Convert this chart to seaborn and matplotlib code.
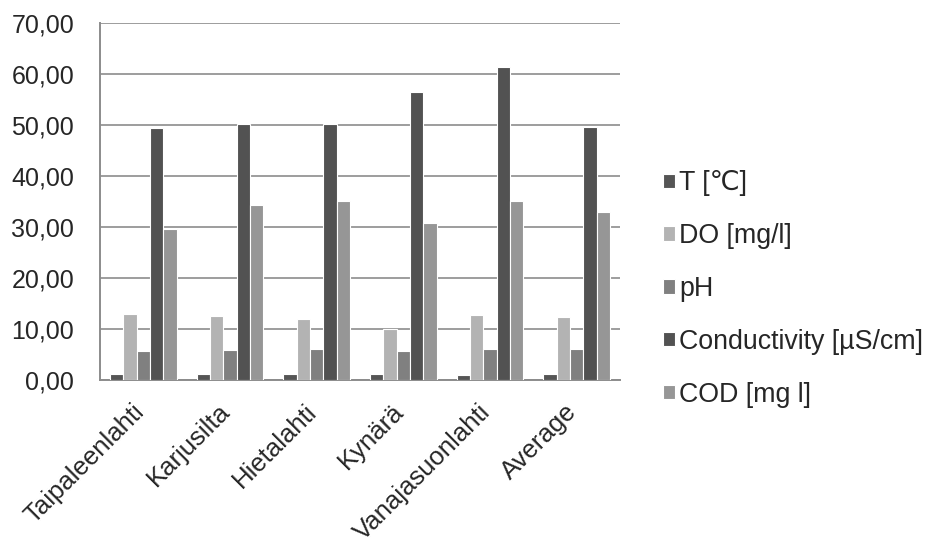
import matplotlib
matplotlib.use("Agg")
import matplotlib.pyplot as plt
import matplotlib.transforms as mtransforms
import seaborn as sns
import pandas as pd
import numpy as np

sites = ["Taipaleenlahti", "Karjusilta", "Hietalahti", "Kynärä", "Vanajasuonlahti", "Average"]
series = ["T [\u2103]", "DO [mg/l]", "pH", "Conductivity [µS/cm]", "COD [mg l]"]
temp = [1.1, 1.2, 1.2, 1.2, 0.9, 1.1]
do = [13.0, 12.5, 12.0, 10.0, 12.7, 12.4]
ph = [5.7, 5.9, 6.1, 5.7, 6.0, 6.0]
conductivity = [49.4, 50.1, 50.1, 56.4, 61.3, 49.6]
cod = [29.6, 34.2, 35.1, 30.8, 35.1, 32.9]
colors = ["#555555", "#b3b3b3", "#808080", "#525252", "#969696"]

values = [temp, do, ph, conductivity, cod]
df = pd.DataFrame(
    [(s, name, v) for name, vals in zip(series, values) for s, v in zip(sites, vals)],
    columns=["site", "parameter", "value"],
)

sns.set_style("white")
plt.rcParams["font.family"] = ["Liberation Sans", "DejaVu Sans"]

fig = plt.figure(figsize=(9.3, 5.42), dpi=100)
ax = fig.add_axes([0.1075, 0.299, 0.559, 0.659])

sns.barplot(
    data=df, x="site", y="value", hue="parameter", order=sites, hue_order=series,
    palette=colors, width=0.77, edgecolor="white", linewidth=0.8,
    saturation=1, errorbar=None, ax=ax, zorder=3,
)

ax.set_ylim(0, 70)
ax.set_xlim(-0.5, len(sites) - 0.5)
ax.set_yticks(np.arange(0, 71, 10))
ax.set_yticklabels([f"{v:.2f}".replace(".", ",") for v in np.arange(0, 71, 10)], fontsize=18)
ax.yaxis.grid(True, color="#8c8c8c", linewidth=1.2, zorder=0)
ax.set_axisbelow(True)

ax.set_xticks(range(len(sites)))
ax.set_xticklabels(sites, rotation=45, ha="right", va="top", rotation_mode="anchor", fontsize=18.5)
ax.set_xticks(np.arange(-0.5, len(sites), 1.0), minor=True)
ax.tick_params(axis="x", which="major", length=0, pad=14)
ax.tick_params(axis="x", which="minor", length=6, color="#8c8c8c", width=1.2, direction="out")
ax.tick_params(axis="y", length=6.5, color="#8c8c8c", width=1.2, direction="out", pad=12)
ax.set_xlabel("")
ax.set_ylabel("")

# nudge the slanted category labels a little to the left
shift = mtransforms.ScaledTranslation(-8.5 / 72, 0, fig.dpi_scale_trans)
for lbl in ax.get_xticklabels():
    lbl.set_transform(lbl.get_transform() + shift)

for side in ["top", "right"]:
    ax.spines[side].set_visible(False)
for side in ["left", "bottom"]:
    ax.spines[side].set_color("#8c8c8c")
    ax.spines[side].set_linewidth(1.4)

handles, labels = ax.get_legend_handles_labels()
ax.legend(
    handles, labels, loc="center left", bbox_to_anchor=(0.713, 0.467),
    bbox_transform=fig.transFigure, frameon=False, fontsize=19.3,
    borderpad=0, borderaxespad=0,
    handlelength=0.45, handleheight=0.45, handletextpad=0.15, labelspacing=1.0,
)

fig.savefig("out.png", dpi=100, facecolor="white")
